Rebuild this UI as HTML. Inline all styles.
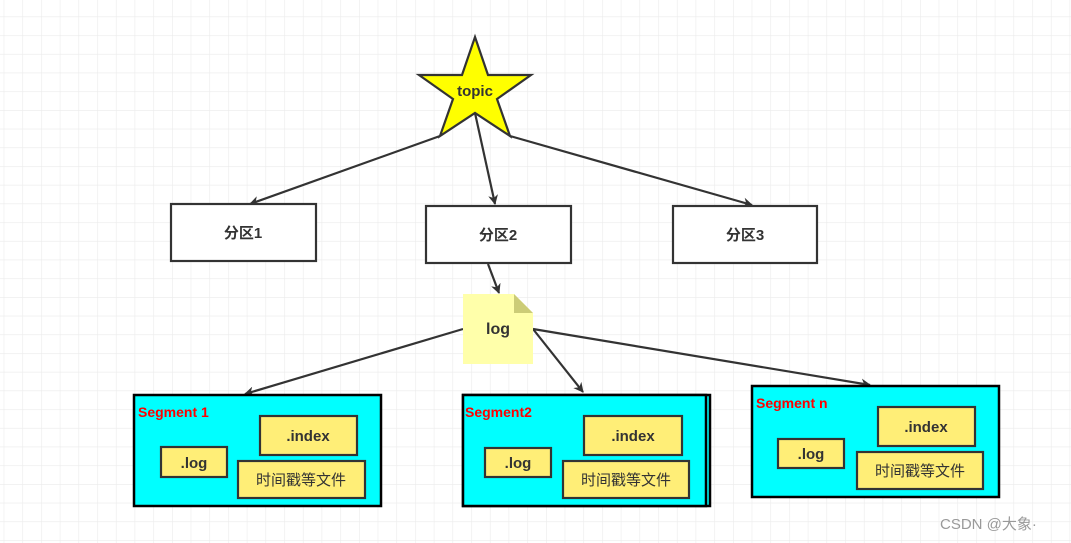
<!DOCTYPE html>
<html><head><meta charset="utf-8"><style>
html,body{margin:0;padding:0;background:#fff;}
svg{display:block;font-family:"Liberation Sans","Noto Sans CJK SC",sans-serif;}
</style></head><body>
<svg width="1071" height="543" viewBox="0 0 1071 543" xmlns="http://www.w3.org/2000/svg">
<defs>
<pattern id="g" x="3.7" y="16.5" width="18.7" height="18.7" patternUnits="userSpaceOnUse">
<path d="M0 0H18.7M0 0V18.7" stroke="#ebebeb" stroke-width="1.2" fill="none"/>
</pattern>
<marker id="a" markerWidth="10" markerHeight="10" refX="9" refY="5" orient="auto" markerUnits="userSpaceOnUse" viewBox="0 0 10 10">
<path d="M0 0L10 5L0 10L3 5Z" fill="#333"/>
</marker>
</defs>
<rect width="1071" height="543" fill="url(#g)"/>
<g stroke="#333" stroke-width="2.2" fill="none">
<line x1="440" y1="136" x2="250" y2="204" marker-end="url(#a)"/>
<line x1="475" y1="113" x2="495" y2="204" marker-end="url(#a)"/>
<line x1="510" y1="136" x2="752" y2="205" marker-end="url(#a)"/>
<line x1="488" y1="264" x2="499" y2="293" marker-end="url(#a)"/>
<line x1="463" y1="329" x2="245" y2="394" marker-end="url(#a)"/>
<line x1="533" y1="329" x2="583" y2="392" marker-end="url(#a)"/>
<line x1="533" y1="329" x2="870" y2="385" marker-end="url(#a)"/>
</g>
<polygon points="475,37 488,75 531,75 497,99 510,136 475,113 440,136 453,99 419,75 462,75" fill="#ffff00" stroke="#333" stroke-width="2.2"/>
<text x="475" y="96" text-anchor="middle" font-weight="bold" font-size="15" fill="#333">topic</text>
<g fill="#fff" stroke="#333" stroke-width="2.2">
<rect x="171" y="204" width="145" height="57"/>
<rect x="426" y="206" width="145" height="57"/>
<rect x="673" y="206" width="144" height="57"/>
</g>
<g font-weight="bold" font-size="15" fill="#333" text-anchor="middle">
<text x="243" y="238">分区1</text>
<text x="498" y="240">分区2</text>
<text x="745" y="240">分区3</text>
</g>
<path d="M463 294H514L533 313V364H463Z" fill="#ffffaa"/>
<path d="M514 294L533 313H514Z" fill="#cccc77"/>
<text x="498" y="334" text-anchor="middle" font-weight="bold" font-size="16" fill="#333">log</text>
<g id="s1">
<rect x="134" y="395" width="247" height="111" fill="#00ffff" stroke="#000" stroke-width="2.5"/>
<rect x="161" y="447" width="66" height="30" fill="#ffee77" stroke="#333" stroke-width="2.2"/>
<rect x="260" y="416" width="97" height="39" fill="#ffee77" stroke="#333" stroke-width="2.2"/>
<rect x="238" y="461" width="127" height="37" fill="#ffee77" stroke="#333" stroke-width="2.2"/>
<g font-size="15" fill="#333" text-anchor="middle" font-weight="bold">
<text x="194" y="468">.log</text>
<text x="308" y="441">.index</text>
<text x="301" y="485" font-weight="normal">时间戳等文件</text>
</g>
</g>
<use href="#s1" transform="translate(329,0)" x="0" y="0" width="1" height="1"/>
<rect x="463" y="395" width="243" height="111" fill="#00ffff" stroke="#000" stroke-width="2.5"/>
<g fill="#ffee77" stroke="#333" stroke-width="2.2">
<rect x="485" y="448" width="66" height="29"/>
<rect x="584" y="416" width="98" height="39"/>
<rect x="563" y="461" width="126" height="37"/>
</g>
<g font-size="15" fill="#333" text-anchor="middle" font-weight="bold">
<text x="518" y="468">.log</text>
<text x="633" y="441">.index</text>
<text x="626" y="485" font-weight="normal">时间戳等文件</text>
</g>
<rect x="752" y="386" width="247" height="111" fill="#00ffff" stroke="#000" stroke-width="2.5"/>
<g fill="#ffee77" stroke="#333" stroke-width="2.2">
<rect x="778" y="439" width="66" height="29"/>
<rect x="878" y="407" width="97" height="39"/>
<rect x="857" y="452" width="126" height="37"/>
</g>
<g font-size="15" fill="#333" text-anchor="middle" font-weight="bold">
<text x="811" y="459">.log</text>
<text x="926" y="432">.index</text>
<text x="920" y="476" font-weight="normal">时间戳等文件</text>
</g>
<g font-size="14" font-weight="bold" fill="#ff0000">
<text x="138" y="417">Segment 1</text>
<text x="465" y="417">Segment2</text>
<text x="756" y="408">Segment n</text>
</g>
<text x="940" y="529" font-size="15" fill="#999">CSDN @大象·</text>
</svg>
</body></html>
